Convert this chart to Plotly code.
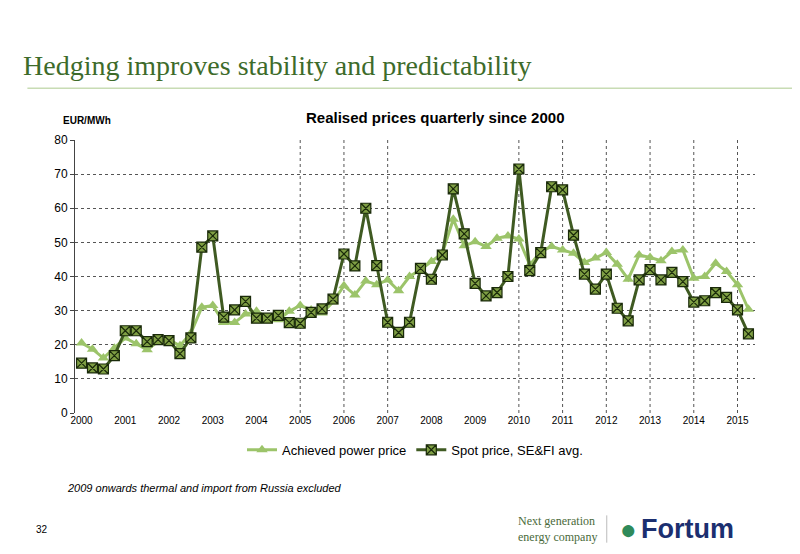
import plotly.graph_objects as go

years = [str(y) for y in range(2000, 2016)]
achieved = [20.5, 18.7, 16.1, 19.0, 22.0, 20.3, 18.5, 21.0, 21.5, 19.7, 23.4, 31.0,
            31.5, 26.5, 26.5, 29.0, 29.8, 27.8, 27.3, 29.8, 31.5, 30.2, 29.3, 32.5,
            37.3, 34.6, 38.7, 37.6, 39.0, 35.8, 40.0, 42.0, 44.4, 46.8, 56.8, 49.0,
            50.2, 48.8, 51.2, 51.9, 51.0, 43.4, 47.3, 48.8, 47.8, 46.8, 44.1, 45.4,
            47.0, 43.6, 39.2, 46.3, 45.6, 44.6, 47.3, 47.8, 39.5, 40.0, 43.9, 41.5,
            37.6, 30.4]
spot = [14.6, 13.2, 12.9, 16.8, 24.1, 24.1, 20.9, 21.5, 21.2, 17.4, 22.0, 48.6,
        51.9, 28.1, 30.2, 32.7, 27.8, 27.8, 28.6, 26.5, 26.3, 29.5, 30.5, 33.4,
        46.6, 43.1, 60.0, 43.2, 26.6, 23.6, 26.6, 42.4, 39.2, 46.3, 65.7, 52.5,
        38.0, 34.3, 35.3, 40.0, 71.5, 41.7, 47.0, 66.3, 65.4, 52.1, 40.7, 36.3,
        40.7, 30.7, 27.0, 39.0, 42.0, 39.0, 41.2, 38.5, 32.5, 32.9, 35.3, 33.9,
        30.2, 23.2]
x = list(range(len(spot)))

fig = go.Figure()
fig.add_trace(go.Scatter(x=x, y=achieved, name="Achieved power price", mode="lines+markers",
                         line=dict(color="#9cc46a", width=3),
                         marker=dict(symbol="triangle-up", size=10, color="#9cc46a")))
fig.add_trace(go.Scatter(x=x, y=spot, name="Spot price, SE&FI avg.", mode="lines+markers",
                         line=dict(color="#3f5a22", width=3),
                         marker=dict(symbol="square-x", size=10, color="#7f9f44",
                                     line=dict(color="#1a2a0a", width=1.2))))

for i in [20, 24, 28, 40, 44, 48, 52, 56, 60]:
    fig.add_shape(type="line", xref="x", yref="y", x0=i, x1=i, y0=0, y1=80,
                  line=dict(color="#555", width=1, dash="dot"), layer="below")

fig.add_shape(type="line", xref="paper", yref="paper", x0=-0.07, x1=1.1, y0=1.19, y1=1.19,
              line=dict(color="#c8dcb4", width=1.5))

fig.update_layout(
    width=800, height=554, paper_bgcolor="white", plot_bgcolor="white",
    margin=dict(l=67, r=53, t=132, b=149),
    font=dict(family="Liberation Sans, Arial", size=11, color="black"),
    showlegend=True,
    legend=dict(orientation="h", x=0.5, xanchor="center", y=-0.08, yanchor="top",
                font=dict(size=13)),
    xaxis=dict(range=[-0.6, 61.6], tickmode="array", tickvals=list(range(0, 62, 4)),
               ticktext=years, showgrid=False, zeroline=False, showline=False,
               tickfont=dict(size=10)),
    yaxis=dict(range=[0, 80], dtick=10, showgrid=True, gridcolor="#555", griddash="dot",
               gridwidth=1, zeroline=False, showline=True, linecolor="#444",
               ticks="outside", ticklen=4, tickfont=dict(size=12)),
    annotations=[
        dict(text="Hedging improves stability and predictability", xref="paper", yref="paper",
             x=-0.08, y=1.21, xanchor="left", yanchor="bottom", showarrow=False,
             font=dict(family="Liberation Serif, Times New Roman", size=28, color="#3d6b2a")),
        dict(text="<b>Realised prices quarterly since 2000</b>", xref="paper", yref="paper",
             x=0.53, y=1.045, xanchor="center", yanchor="bottom", showarrow=False,
             font=dict(size=15)),
        dict(text="<b>EUR/MWh</b>", xref="paper", yref="paper", x=-0.02, y=1.045,
             xanchor="left", yanchor="bottom", showarrow=False, font=dict(size=10)),
        dict(text="<i>2009 onwards thermal and import from Russia excluded</i>", xref="paper",
             yref="paper", x=-0.015, y=-0.275, xanchor="left", yanchor="middle",
             showarrow=False, font=dict(size=11)),
        dict(text="32", xref="paper", yref="paper", x=-0.06, y=-0.425, xanchor="left",
             yanchor="middle", showarrow=False, font=dict(size=10)),
        dict(text="Next generation<br>energy company", xref="paper", yref="paper", x=0.77,
             y=-0.425, xanchor="right", yanchor="middle", showarrow=False, align="left",
             font=dict(family="Liberation Serif", size=12, color="#4a6a3a")),
        dict(text="<b>Fortum</b>", xref="paper", yref="paper", x=0.83, y=-0.425, xanchor="left",
             yanchor="middle", showarrow=False, font=dict(size=27, color="#1b2f70")),
        dict(text="●", xref="paper", yref="paper", x=0.83, y=-0.425, xanchor="right",
             yanchor="middle", showarrow=False, font=dict(size=28, color="#2f8a5a")),
    ],
)
fig.add_shape(type="line", xref="paper", yref="paper", x0=0.782, x1=0.782, y0=-0.375, y1=-0.475,
              line=dict(color="#bbb", width=1))
fig.write_html("out.html")
